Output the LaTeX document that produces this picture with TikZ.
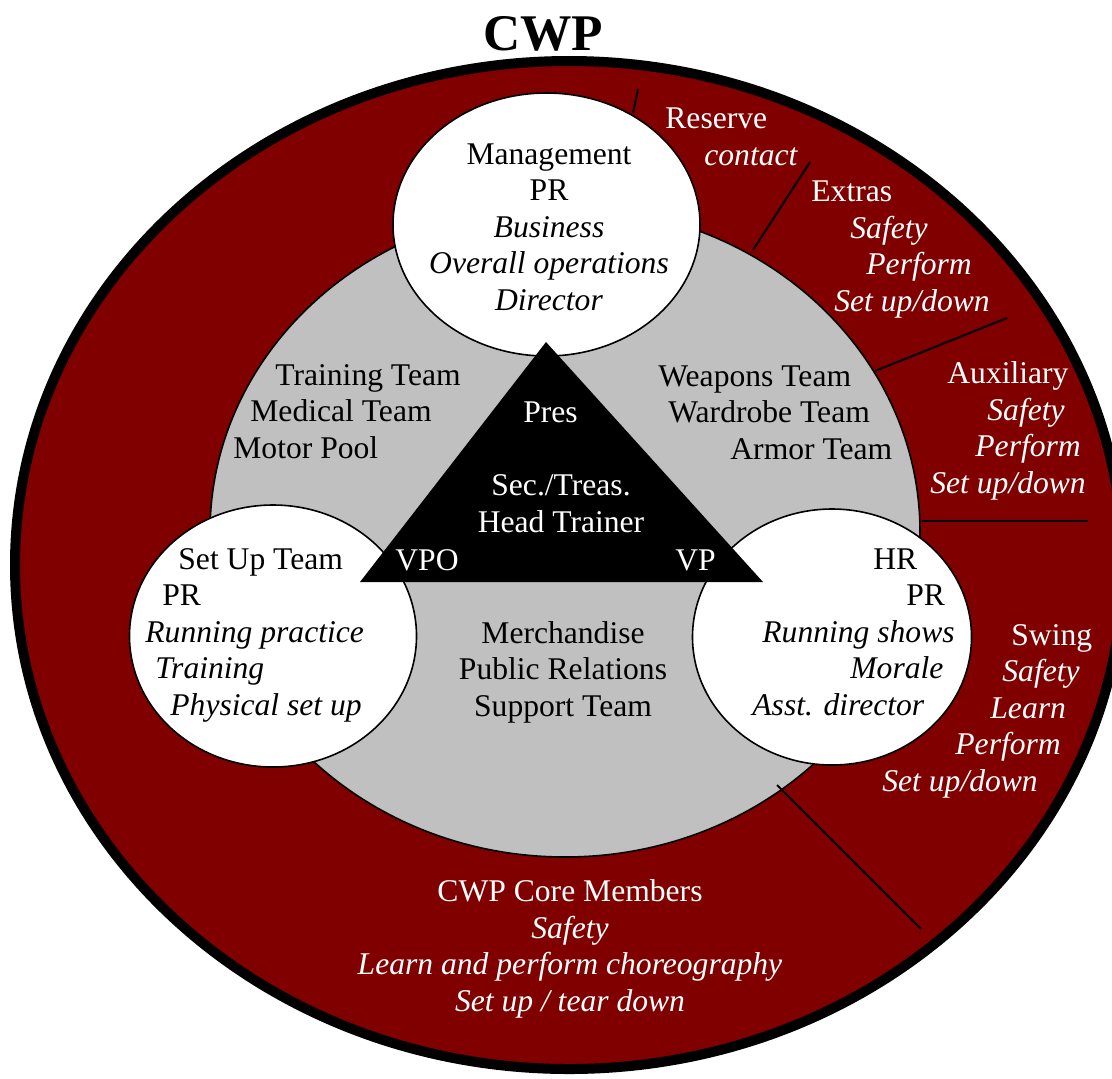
\documentclass[tikz,border=0pt]{standalone}
\usepackage{fontspec}
\setmainfont{Liberation Serif}
\newdimen\pxunit
\pxunit=0.5pt
\newcommand{\ind}[1]{\hspace*{#1\pxunit}}

\begin{document}
\begin{tikzpicture}[x=0.5pt,y=-0.5pt,
  leftText/.style={font=\fontsize{15.8}{18.2}\selectfont, inner sep=0pt, anchor=base west, align=left},
  midText/.style={font=\fontsize{15.8}{18.2}\selectfont, inner sep=0pt, anchor=base, align=center},
  onDark/.style={text=white}]
% Colors
\definecolor{ringColor}{RGB}{128,0,0}
\definecolor{coreColor}{RGB}{192,192,192}
\useasboundingbox (0,0) rectangle (1112,1078);
% Outer ring and core
\filldraw[fill=ringColor, draw=black, line width=5pt] (569,565) ellipse [x radius=554, y radius=504];
\filldraw[fill=coreColor, draw=black, line width=0.8pt] (565,532) ellipse [x radius=355, y radius=325];
% Dividers
\begin{scope}[black, line width=1pt]
	\draw ( 638, 89) -- ( 633,113); % reserve
	\draw ( 810,162) -- ( 753,250); % extras
	\draw (1007,318) -- ( 875,371); % auxiliary
	\draw ( 922,521) -- (1088,521); % swing
	\draw ( 777,785) -- ( 921,929); % core
\end{scope}
% Officer ellipses
\begin{scope}[fill=white, draw=black, line width=0.8pt]
	\filldraw (546.5,224.5) ellipse [x radius=153.5, y radius=131.5]; % top
	\filldraw (273,636) ellipse [x radius=143.5, y radius=131];       % left
	\filldraw (832,637) ellipse [x radius=139.5, y radius=128];       % right
\end{scope}
% Triangle
\fill[black] (546,342) -- (763,582) -- (360,582) -- cycle;
% Title
\node[font=\fontsize{25.7}{30}\selectfont\bfseries, anchor=base, inner sep=0pt] (title) at (543,50) {CWP};
% Texts on the ring (placed by last baseline)
\begin{scope}[onDark]
	\node[leftText] (reserve) at (665,165) {Reserve\\\ind{39}\emph{contact}};
	\node[leftText] (extras) at (811,311) {Extras\\\ind{39}\emph{Safety}\\\ind{55}\emph{Perform}\\\ind{23}\emph{Set up/down}};
	\node[leftText] (auxiliary) at (930,493) {\ind{17}Auxiliary\\\ind{57}\emph{Safety}\\\ind{45}\emph{Perform}\\\emph{Set up/down}};
	\node[leftText] (swing) at (882,791) {\ind{129}Swing\\\ind{120}\emph{Safety}\\\ind{108}\emph{Learn}\\\ind{73}\emph{Perform}\\\emph{Set up/down}};
	\node[midText] (core) at (570,1011) {CWP Core Members\\\emph{Safety}\\\emph{Learn and perform choreography}\\\emph{Set up / tear down}};
\end{scope}
% Texts on the core
\node[leftText] (training) at (233,458) {\ind{42}Training Team\\\ind{17}Medical Team\\Motor Pool};
\node[leftText] (weapons) at (658,459) {Weapons Team\\\ind{10}Wardrobe Team\\\ind{72}Armor Team};
\node[midText] (merch) at (563,716) {Merchandise\\Public Relations\\Support Team};
% Officers
\node[midText] (management) at (549,310) {Management\\PR\\\emph{Business}\\\emph{Overall operations}\\\emph{Director}};
\node[leftText] (setup) at (145,715) {\ind{33}Set Up Team\\\ind{17}PR\\\emph{Running practice}\\\ind{10}\emph{Training}\\\ind{25}\emph{Physical set up}};
\node[leftText] (hr) at (752,715) {\ind{121}HR\\\ind{154}PR\\\ind{10}\emph{Running shows}\\\ind{98}\emph{Morale}\\\emph{Asst. director}};
\begin{scope}[onDark]
	\node[midText] (pres) at (550.5,422) {Pres};
	\node[midText] (sec) at (561,532) {Sec./Treas.\\Head Trainer};
	\node[leftText] (vpo) at (395,570) {VPO};
	\node[leftText] (vp) at (675,570) {VP};
\end{scope}
\end{tikzpicture}
\end{document}
